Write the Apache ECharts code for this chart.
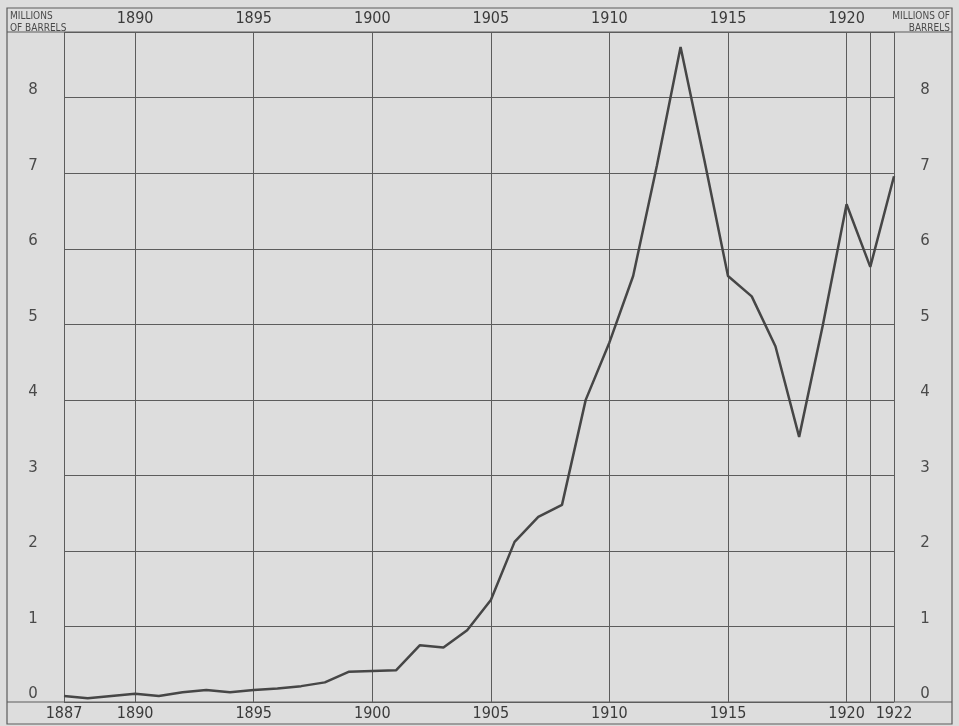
<!DOCTYPE html>
<html>
<head>
<meta charset="utf-8">
<script src="https://cdn.jsdelivr.net/npm/echarts@6/dist/echarts.min.js"></script>
<style>
  html, body { margin: 0; padding: 0; background: #dddddd; }
  #chart { width: 959px; height: 726px; }
</style>
</head>
<body>
<div id="chart"></div>
<script>
// Annual production, millions of barrels
const years = ['1887','1888','1889','1890','1891','1892','1893','1894','1895','1896',
  '1897','1898','1899','1900','1901','1902','1903','1904','1905','1906','1907','1908',
  '1909','1910','1911','1912','1913','1914','1915','1916','1917','1918','1919','1920',
  '1921','1922'];
const production = [0.08, 0.05, 0.08, 0.11, 0.08, 0.13, 0.16, 0.13, 0.16, 0.18,
  0.21, 0.26, 0.40, 0.41, 0.42, 0.75, 0.72, 0.95, 1.35, 2.12, 2.45, 2.61,
  4.00, 4.76, 5.64, 7.10, 8.67, 7.18, 5.64, 5.37, 4.71, 3.51, 4.99, 6.59,
  5.76, 6.96];

// Year labels along the bottom and the top, and the years that get a rule
const bottomYearLabels = ['1887','1890','1895','1900','1905','1910','1915','1920','1922'];
const topYearLabels = ['1890','1895','1900','1905','1910','1915','1920'];
const ruledYears = ['1887','1890','1895','1900','1905','1910','1915','1920','1921','1922'];
const valueTicks = [0, 1, 2, 3, 4, 5, 6, 7, 8];

const ink = '#464646';
const rule = '#5c5c5c';
const narrow = "'Liberation Sans Narrow', 'DejaVu Sans Condensed', sans-serif";

const chart = echarts.init(document.getElementById('chart'), null, { renderer: 'canvas' });

const yLabel = v => (valueTicks.indexOf(v) >= 0 ? String(v) : '');

chart.setOption({
  backgroundColor: '#dddddd',
  animation: false,
  grid: { left: 64, right: 65, top: 32, bottom: 24, show: false },
  xAxis: [
    {
      type: 'category',
      data: years,
      boundaryGap: false,
      position: 'bottom',
      axisLine: { show: false },
      axisTick: { show: false },
      axisLabel: {
        interval: (i, v) => bottomYearLabels.indexOf(v) >= 0,
        margin: 4,
        fontFamily: narrow,
        fontSize: 16,
        color: '#3a3a3a'
      },
      splitLine: {
        show: true,
        interval: (i, v) => ruledYears.indexOf(v) >= 0,
        lineStyle: { color: rule, width: 1 }
      }
    },
    {
      type: 'category',
      data: years,
      boundaryGap: false,
      position: 'top',
      axisLine: { show: false },
      axisTick: { show: false },
      axisLabel: {
        interval: (i, v) => topYearLabels.indexOf(v) >= 0,
        margin: 5,
        fontFamily: narrow,
        fontSize: 16,
        color: '#3a3a3a'
      },
      splitLine: { show: false }
    }
  ],
  yAxis: [
    {
      type: 'value',
      min: 0,
      max: 8.87,
      interval: 1,
      position: 'left',
      axisLine: { show: false },
      axisTick: { show: false },
      axisLabel: {
        formatter: yLabel,
        align: 'center',
        verticalAlign: 'bottom',
        margin: 31,
        fontFamily: "'DejaVu Sans', sans-serif",
        fontSize: 15,
        color: '#4a4a4a'
      },
      splitLine: { show: true, lineStyle: { color: rule, width: 1 } }
    },
    {
      type: 'value',
      min: 0,
      max: 8.87,
      interval: 1,
      position: 'right',
      axisLine: { show: false },
      axisTick: { show: false },
      axisLabel: {
        formatter: yLabel,
        align: 'center',
        verticalAlign: 'bottom',
        margin: 31,
        fontFamily: "'DejaVu Sans', sans-serif",
        fontSize: 15,
        color: '#4a4a4a'
      },
      splitLine: { show: false }
    }
  ],
  series: [
    {
      type: 'line',
      xAxisIndex: 0,
      yAxisIndex: 0,
      data: production,
      symbol: 'none',
      lineStyle: { color: ink, width: 2.5 },
      z: 5
    }
  ],
  graphic: [
    // outer frame
    { type: 'rect', shape: { x: 7, y: 8, width: 945, height: 716 },
      style: { fill: 'none', stroke: rule, lineWidth: 1.2 }, z: 10 },
    // header and footer rules across the full width
    { type: 'line', shape: { x1: 7, y1: 32, x2: 952, y2: 32 },
      style: { stroke: rule, lineWidth: 1.2 }, z: 10 },
    { type: 'line', shape: { x1: 7, y1: 702, x2: 952, y2: 702 },
      style: { stroke: rule, lineWidth: 1.2 }, z: 10 },
    // unit captions
    { type: 'text', x: 10, y: 10, z: 10,
      style: { text: 'MILLIONS\nOF BARRELS', font: "10px " + narrow, fill: '#4a4a4a',
               lineHeight: 12, align: 'left', verticalAlign: 'top' } },
    { type: 'text', x: 950, y: 10, z: 10,
      style: { text: 'MILLIONS OF\nBARRELS', font: "10px " + narrow, fill: '#4a4a4a',
               lineHeight: 12, align: 'right', verticalAlign: 'top' } }
  ]
});
</script>
</body>
</html>
